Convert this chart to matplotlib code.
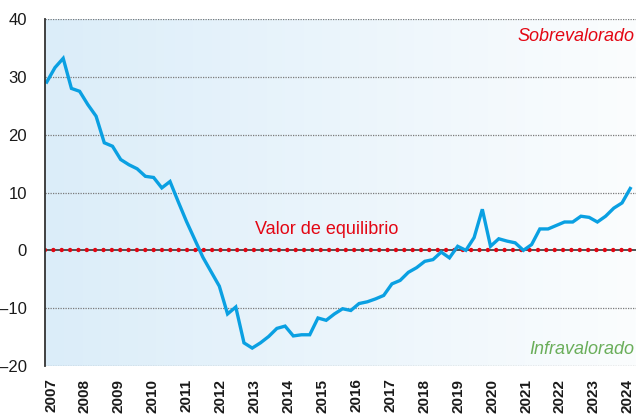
import numpy as np
import matplotlib
matplotlib.use("Agg")
import matplotlib.pyplot as plt
from matplotlib.colors import LinearSegmentedColormap

plt.rcParams['font.family'] = ['Liberation Sans', 'DejaVu Sans']

# quarterly deviation from equilibrium (%), 2007Q1 .. 2024Q4
desviacion = [29.1, 31.6, 33.2, 28.0, 27.5, 25.2, 23.2, 18.6,
              18.0, 15.7, 14.8, 14.1, 12.8, 12.6, 10.8, 11.9,
              8.4, 5.0, 1.9, -1.2, -3.7, -6.2, -11.0, -9.8,
              -16.0, -16.9, -16.0, -14.9, -13.5, -13.1, -14.8, -14.6,
              -14.6, -11.7, -12.1, -11.0, -10.1, -10.4, -9.2, -8.9,
              -8.4, -7.8, -5.8, -5.2, -3.8, -3.0, -1.9, -1.6,
              -0.3, -1.3, 0.7, 0.0, 2.2, 7.1, 0.7, 2.0,
              1.6, 1.3, 0.0, 1.0, 3.7, 3.7, 4.3, 4.9,
              4.9, 5.9, 5.7, 4.9, 5.9, 7.3, 8.2, 10.7]
anios = [str(a) for a in range(2007, 2025)]
y_ticks = [-20, -10, 0, 10, 20, 30, 40]

azul = '#0aa0e2'
rojo = '#e30613'
verde = '#6aae5a'

fig = plt.figure(figsize=(6.36, 4.17), dpi=100)
ax = fig.add_axes([0.0708, 0.1223, 0.9292, 0.8321])

x = np.arange(len(desviacion))

# background gradient
cmap = LinearSegmentedColormap.from_list('fondo', ['#dbedf9', '#fbfdfe'])
grad = np.linspace(0, 1, 256).reshape(1, -1)
ax.imshow(grad, extent=[0, 1, 0, 1], transform=ax.transAxes,
          aspect='auto', cmap=cmap, zorder=0)

for t in y_ticks:
    if t != 0:
        ax.axhline(t, color='#7a7a7a', lw=0.9, ls=(0, (1, 1)), zorder=1)

ax.axhline(0, color='#444444', lw=1.3, zorder=2)
ax.axhline(0, color=rojo, lw=3.2, ls=(0, (0.01, 1.87)),
           dash_capstyle='round', zorder=3)

ax.plot(x, desviacion, color=azul, lw=2.4, zorder=4, solid_joinstyle='miter')

ax.set_xlim(-0.21, 71.7)
ax.set_ylim(-20, 40)

ax.set_yticks(y_ticks)
ax.set_yticklabels([str(t).replace('-', '\u2013') for t in y_ticks])
ax.tick_params(axis='y', length=0, pad=13, labelsize=12, colors='#1a1a1a')

ax.set_xticks(np.linspace(0.52, 70.7, len(anios)))
ax.set_xticklabels(anios, rotation=90, fontweight='bold')
ax.tick_params(axis='x', length=0, pad=9, labelsize=11, colors='#1a1a1a')

for s in ['top', 'right', 'bottom']:
    ax.spines[s].set_visible(False)
ax.spines['left'].set_color('#333333')
ax.spines['left'].set_linewidth(1.3)
ax.spines['left'].set_zorder(5)

ax.text(0.997, 0.95, 'Sobrevalorado', transform=ax.transAxes, ha='right',
        va='center', color=rojo, fontsize=13, style='italic')
ax.text(0.476, 3.6, 'Valor de equilibrio', ha='center', va='center',
        color=rojo, fontsize=13, transform=ax.get_yaxis_transform())
ax.text(0.997, -17.1, 'Infravalorado', ha='right', va='center',
        color=verde, fontsize=13, style='italic',
        transform=ax.get_yaxis_transform())

fig.savefig('out.png', dpi=100)
